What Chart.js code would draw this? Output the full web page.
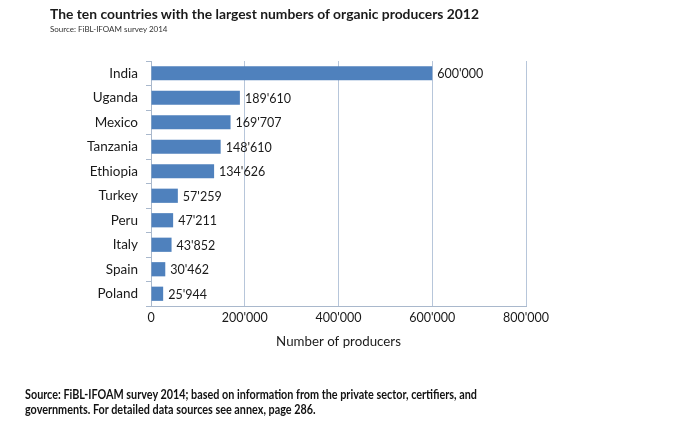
<!DOCTYPE html>
<html><head><meta charset="utf-8">
<script src="https://cdn.jsdelivr.net/npm/chart.js@4"></script>
<style>
html,body{margin:0;padding:0;background:#fff;}
#wrap{position:relative;width:688px;height:442px;overflow:hidden;}
canvas{position:absolute;left:0;top:0;}
.t{position:absolute;white-space:nowrap;color:#1a1a1a;}
#title{left:50px;top:5px;font:bold 13.85px Lato, sans-serif;}
#sub{left:50px;top:24px;font:8px Lato, sans-serif;color:#333;}
#foot{left:25px;top:387px;font:bold 13.3px Lato, sans-serif;line-height:14.5px;color:#111;transform-origin:0 0;}
</style></head>
<body><div id="wrap">
<canvas id="c" width="688" height="442"></canvas>
<div class="t" id="title">The ten countries with the largest numbers of organic producers 2012</div>
<div class="t" id="sub">Source: FiBL-IFOAM survey 2014</div>
<div class="t" id="foot">Source: FiBL-IFOAM survey 2014; based on information from the private sector, certifiers, and<br>governments. For detailed data sources see annex, page 286.</div>
</div>
<script>
const countries = ["India","Uganda","Mexico","Tanzania","Ethiopia","Turkey","Peru","Italy","Spain","Poland"];
const producers = [600000,189610,169707,148610,134626,57259,47211,43852,30462,25944];
const xTicks = [0,200000,400000,600000,800000];
const axisTitle = "Number of producers";

(function(){
  const f = document.getElementById('foot');
  const w = f.getBoundingClientRect().width;
  f.style.transform = 'scaleX(' + (452 / w) + ')';
})();

function fmt(v){ return String(Math.round(v)).replace(/\B(?=(\d{3})+(?!\d))/g, "'"); }

const labelPlugin = {
  id:'vlabels',
  afterDatasetsDraw(chart){
    const ctx = chart.ctx;
    const meta = chart.getDatasetMeta(0);
    ctx.save();
    ctx.font = '12.5px Lato, sans-serif';
    ctx.fillStyle = '#1a1a1a';
    ctx.textBaseline = 'middle';
    ctx.textAlign = 'left';
    meta.data.forEach((bar,i)=>{
      ctx.fillText(fmt(producers[i]), bar.x + 5, bar.y + 1);
    });
    ctx.restore();
  }
};

new Chart(document.getElementById('c'), {
  type:'bar',
  data:{labels:countries, datasets:[{data:producers, backgroundColor:'#4f81bd', borderWidth:0, barPercentage:0.58, categoryPercentage:1}]},
  options:{
    indexAxis:'y', responsive:false, animation:false,
    layout:{padding:{left:0,right:162,top:61,bottom:0}},
    plugins:{legend:{display:false}, tooltip:{enabled:false}},
    scales:{
      x:{min:0,max:800000,
        afterBuildTicks(s){ s.ticks = xTicks.map(v=>({value:v})); },
        afterFit(s){ s.height = 442-306; },
        ticks:{callback:v=>fmt(v), color:'#1a1a1a', font:{family:'Lato', size:12.5}, maxRotation:0, padding:4},
        grid:{color:'#b7c6da', lineWidth:1, drawTicks:false, tickLength:0},
        border:{display:true, color:'#a9b8cc'},
        title:{display:true, text:axisTitle, color:'#1a1a1a', font:{family:'Lato', size:13.3}, padding:{top:6, bottom:92}}
      },
      y:{
        afterFit(s){ s.width = 151; },
        ticks:{color:'#1a1a1a', font:{family:'Lato', size:13.5}, padding:8},
        grid:{offset:true, drawOnChartArea:false, drawTicks:true, tickLength:5, color:'#a9b8cc'},
        border:{display:true, color:'#a9b8cc'}
      }
    }
  },
  plugins:[labelPlugin]
});
</script>
</body></html>
